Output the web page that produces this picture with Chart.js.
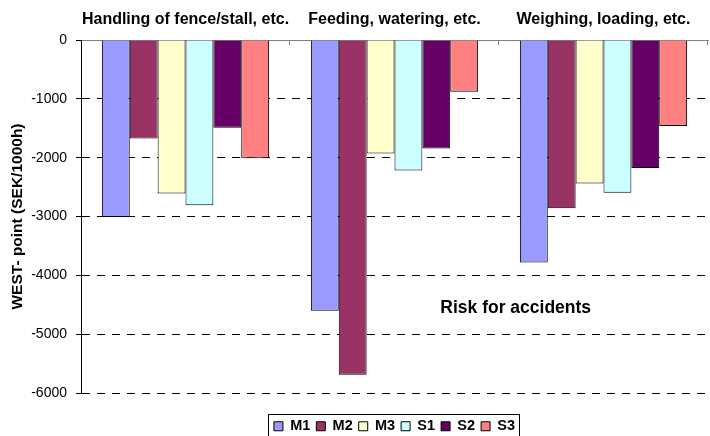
<!DOCTYPE html>
<html>
<head>
<meta charset="utf-8">
<script src="https://cdn.jsdelivr.net/npm/chart.js@4/dist/chart.umd.min.js"></script>
<style>
  html, body { margin: 0; padding: 0; background: #ffffff; }
  #wrap { width: 710px; height: 436px; }
</style>
</head>
<body>
<div id="wrap"><canvas id="c" width="710" height="436"></canvas></div>
<script>
// ---- data ----
const categories = ['Handling of fence/stall, etc.', 'Feeding, watering, etc.', 'Weighing, loading, etc.'];
const seriesNames = ['M1', 'M2', 'M3', 'S1', 'S2', 'S3'];
const M1 = [-3010, -4600, -3780];
const M2 = [-1675, -5690, -2860];
const M3 = [-2610, -1930, -2440];
const S1 = [-2810, -2220, -2595];
const S2 = [-1490, -1845, -2175];
const S3 = [-2010, -880, -1460];
const yMin = -6000;
const yMax = 0;
const yStep = 1000;
const yTitle = 'WEST- point (SEK/1000h)';
const noteText = 'Risk for accidents';

const seriesValues = [M1, M2, M3, S1, S2, S3];
const seriesColors = ['#9999FF', '#993366', '#FFFFCC', '#CCFFFF', '#660066', '#FF8080'];
const FONT = "'Liberation Sans', Arial, Helvetica, sans-serif";

Chart.defaults.color = '#000';
Chart.defaults.font.family = FONT;

const datasets = seriesNames.map((name, i) => ({
  label: name,
  data: seriesValues[i],
  backgroundColor: seriesColors[i],
  borderColor: '#000',
  borderWidth: 1,
  barPercentage: 1.0,
  categoryPercentage: 0.8
}));

// inward tick marks on the category axis (at the category boundaries)
const catTicks = {
  id: 'catTicks',
  afterDraw(chart) {
    const x = chart.scales.x, ctx = chart.ctx, top = chart.chartArea.top;
    const n = categories.length;
    ctx.save();
    ctx.strokeStyle = '#808080';
    ctx.lineWidth = 1;
    for (let i = 1; i <= n; i++) {
      let bx;
      if (i < n) bx = (x.getPixelForValue(i - 1) + x.getPixelForValue(i)) / 2;
      else bx = x.right;
      bx = Math.round(bx) - 0.5;
      ctx.beginPath();
      ctx.moveTo(bx, top);
      ctx.lineTo(bx, top + 5);
      ctx.stroke();
    }
    ctx.restore();
  }
};

// frame round the legend + the note text
const extras = {
  id: 'extras',
  afterDraw(chart) {
    const ctx = chart.ctx;
    const lg = chart.legend;
    if (lg && lg.legendHitBoxes && lg.legendHitBoxes.length) {
      const hb = lg.legendHitBoxes;
      let l = Infinity, r = -Infinity, t = Infinity, b = -Infinity;
      hb.forEach(h => { l = Math.min(l, h.left); r = Math.max(r, h.left + h.width); t = Math.min(t, h.top); b = Math.max(b, h.top + h.height); });
      ctx.save();
      ctx.strokeStyle = '#000';
      ctx.lineWidth = 1;
      ctx.strokeRect(Math.round(l - 6) + 0.5, Math.round(t - 5) + 0.5, Math.round(r - l + 10), Math.round(b - t + 9));
      ctx.restore();
    }
    const xs = chart.scales.x, ys = chart.scales.y;
    ctx.save();
    ctx.font = 'bold 17.5px ' + FONT;
    ctx.fillStyle = '#000';
    ctx.textAlign = 'center';
    ctx.textBaseline = 'middle';
    ctx.fillText(noteText, xs.getPixelForValue(1.58), ys.getPixelForValue(-4550));
    ctx.restore();
  }
};

new Chart(document.getElementById('c'), {
  type: 'bar',
  data: { labels: categories, datasets },
  plugins: [catTicks, extras],
  options: {
    responsive: false,
    animation: false,
    layout: { padding: { left: 0, right: 2, top: 0, bottom: 0 } },
    plugins: {
      tooltip: { enabled: false },
      legend: {
        position: 'bottom',
        fullSize: false,
        maxHeight: 43,
        title: { display: true, text: '', font: { size: 10 }, padding: { top: 8, bottom: 0 } },
        labels: {
          boxWidth: 9,
          boxHeight: 9,
          padding: 6,
          color: '#000',
          font: { size: 14.5, weight: 'bold', family: FONT }
        }
      }
    },
    scales: {
      x: {
        position: 'top',
        offset: true,
        grid: { display: false, drawTicks: false },
        border: { display: true, color: '#808080', width: 1 },
        ticks: { color: '#000', padding: 11, maxRotation: 0, autoSkip: false, font: { size: 16, weight: 'bold', family: FONT } },
        afterFit(s) { s.height = 40; }
      },
      y: {
        min: yMin,
        max: yMax,
        ticks: {
          stepSize: yStep,
          color: '#000',
          padding: 9,
          font: { size: 14, family: FONT },
          callback: v => String(v)
        },
        grid: {
          color: c => (c.tick && c.tick.value === 0) ? 'rgba(0,0,0,0)' : '#000',
          lineWidth: 1,
          drawTicks: true,
          tickLength: 5,
          tickColor: '#000'
        },
        border: { display: true, color: '#000', width: 1, dash: [8, 7] },
        title: {
          display: true,
          text: yTitle,
          color: '#000',
          padding: { top: 8, bottom: 0 },
          font: { size: 15.5, weight: 'bold', family: FONT }
        },
        afterFit(s) { s.width = 81; }
      }
    }
  }
});
</script>
</body>
</html>
